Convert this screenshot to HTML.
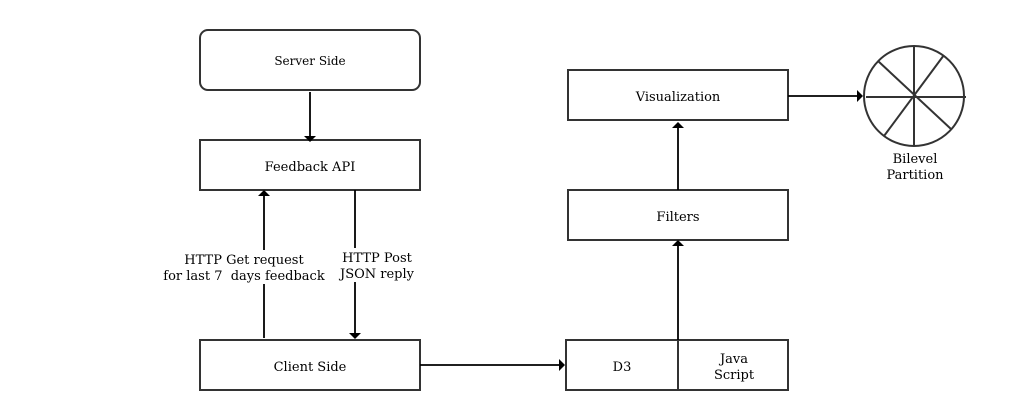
<!DOCTYPE html>
<html><head><meta charset="utf-8"><style>
html,body{margin:0;padding:0;background:#fff;}
svg{display:block;}
text{font-family:"DejaVu Serif","Liberation Serif",serif;font-size:13px;fill:#000;}
</style></head><body>
<svg width="1013" height="415" viewBox="0 0 1013 415" xmlns="http://www.w3.org/2000/svg">
<g fill="none" stroke="#333" stroke-width="2">
<rect x="200" y="30" width="220" height="60" rx="8"/>
<rect x="200" y="140" width="220" height="50"/>
<rect x="200" y="340" width="220" height="50"/>
<rect x="568" y="70" width="220" height="50"/>
<rect x="568" y="190" width="220" height="50"/>
<rect x="566" y="340" width="222" height="50"/>
<line x1="678" y1="340" x2="678" y2="390"/>
<circle cx="914" cy="96" r="50"/>
<line x1="914" y1="46" x2="914" y2="146"/>
<line x1="866" y1="97" x2="966" y2="97"/>
<line x1="878" y1="61" x2="951" y2="129"/>
<line x1="944" y1="55" x2="884" y2="136"/>
</g>
<g stroke="#000" stroke-width="1.8" fill="none">
<line x1="310" y1="92" x2="310" y2="136"/>
<line x1="264" y1="338" x2="264" y2="284"/>
<line x1="264" y1="250" x2="264" y2="195"/>
<line x1="355" y1="190" x2="355" y2="248"/>
<line x1="355" y1="282" x2="355" y2="334"/>
<line x1="420" y1="365" x2="560" y2="365"/>
<line x1="678" y1="340" x2="678" y2="246"/>
<line x1="678" y1="190" x2="678" y2="126"/>
<line x1="788" y1="96" x2="858" y2="96"/>
</g>
<g fill="#000">
<polygon points="304,136 316,136 310,142"/>
<polygon points="258,196 270,196 264,190"/>
<polygon points="349,333 361,333 355,339"/>
<polygon points="559,359 559,371 565,365"/>
<polygon points="672,246 684,246 678,240"/>
<polygon points="672,128 684,128 678,122"/>
<polygon points="857,90 857,102 863,96"/>
</g>
<text x="310" y="65" text-anchor="middle" style="font-size:12px">Server Side</text>
<text x="310" y="171" text-anchor="middle">Feedback API</text>
<text x="310" y="371" text-anchor="middle">Client Side</text>
<text x="678" y="101" text-anchor="middle">Visualization</text>
<text x="678" y="221" text-anchor="middle">Filters</text>
<text x="622" y="371" text-anchor="middle">D3</text>
<text x="734" y="363" text-anchor="middle">Java</text>
<text x="734" y="379" text-anchor="middle">Script</text>
<text x="244" y="264" text-anchor="middle">HTTP Get request</text>
<text x="244" y="280" text-anchor="middle">for last 7&#160; days feedback</text>
<text x="377" y="262" text-anchor="middle">HTTP Post</text>
<text x="377" y="278" text-anchor="middle">JSON reply</text>
<text x="915" y="163" text-anchor="middle">Bilevel</text>
<text x="915" y="179" text-anchor="middle">Partition</text>
</svg>
</body></html>
